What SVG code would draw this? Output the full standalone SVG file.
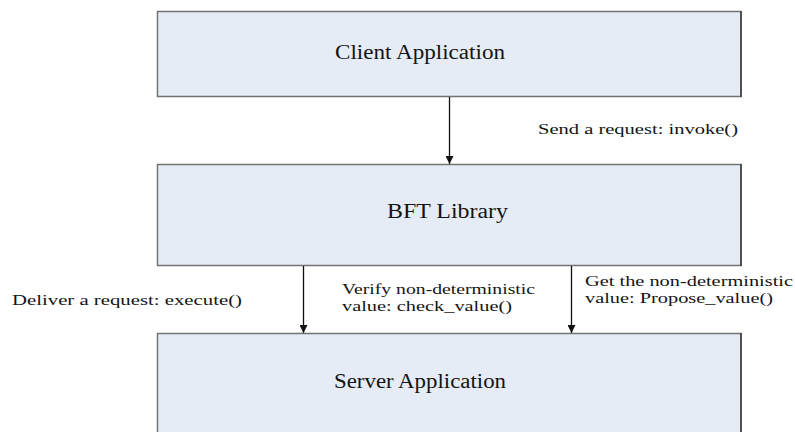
<svg xmlns="http://www.w3.org/2000/svg" width="795" height="432" viewBox="0 0 795 432">
<defs>
<style>
.box{fill:#e5ecf6;stroke:#737373;stroke-width:1.5}
.edge{stroke:#3a3a3a;stroke-width:1.5}
.title{font-family:"Liberation Serif","Times New Roman",serif;font-size:20.5px;fill:#141414}
.lbl{font-family:"Liberation Serif","Times New Roman",serif;font-size:14.5px;fill:#141414}
.conn{stroke:#111;stroke-width:1.3;fill:none}
</style>
<marker id="ah" viewBox="0 0 10 10" refX="10" refY="5" markerWidth="8" markerHeight="8" markerUnits="userSpaceOnUse" orient="auto">
<path d="M0,0 L10,5 L0,10 z" fill="#111"/>
</marker>
</defs>
<rect width="795" height="432" fill="#ffffff"/>
<g id="client">
<rect class="box" x="157.5" y="11.5" width="583.5" height="85"/>
<line class="edge" x1="741" y1="11" x2="741" y2="97"/>
<text class="title" x="335" y="59" textLength="170" lengthAdjust="spacingAndGlyphs">Client Application</text>
</g>
<g id="bft">
<rect class="box" x="157.5" y="164.5" width="583.5" height="101"/>
<line class="edge" x1="741" y1="164" x2="741" y2="266"/>
<text class="title" x="387" y="218" textLength="121" lengthAdjust="spacingAndGlyphs">BFT Library</text>
</g>
<g id="server">
<rect class="box" x="157.5" y="333.5" width="583.5" height="110"/>
<line class="edge" x1="741" y1="333" x2="741" y2="432"/>
<text class="title" x="334" y="388" textLength="172" lengthAdjust="spacingAndGlyphs">Server Application</text>
</g>
<g id="connectors">
<line class="conn" x1="449.5" y1="97" x2="449.5" y2="164" marker-end="url(#ah)"/>
<line class="conn" x1="303.5" y1="266" x2="303.5" y2="333" marker-end="url(#ah)"/>
<line class="conn" x1="571.5" y1="266" x2="571.5" y2="333" marker-end="url(#ah)"/>
<text class="lbl" x="538" y="134" textLength="200" lengthAdjust="spacingAndGlyphs">Send a request: invoke()</text>
<text class="lbl" x="12" y="305" textLength="230" lengthAdjust="spacingAndGlyphs">Deliver a request: execute()</text>
<text class="lbl" x="342" y="294" textLength="193" lengthAdjust="spacingAndGlyphs">Verify non-deterministic</text>
<text class="lbl" x="342" y="311" textLength="170" lengthAdjust="spacingAndGlyphs">value: check_value()</text>
<text class="lbl" x="585" y="286" textLength="208" lengthAdjust="spacingAndGlyphs">Get the non-deterministic</text>
<text class="lbl" x="585" y="303" textLength="188" lengthAdjust="spacingAndGlyphs">value: Propose_value()</text>
</g>
</svg>
